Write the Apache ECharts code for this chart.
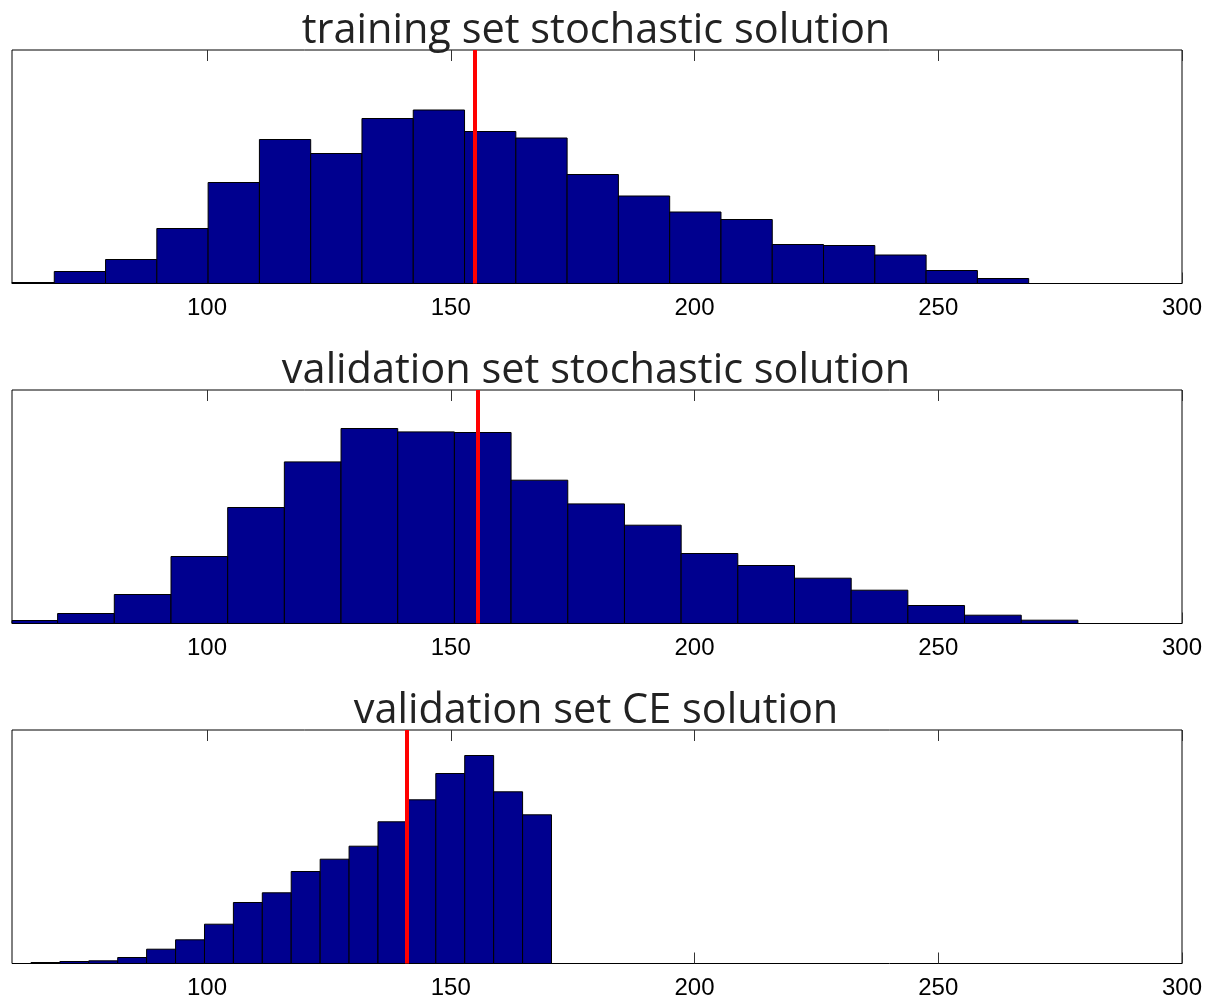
<!DOCTYPE html>
<html>
<head>
<meta charset="utf-8">
<script src="https://cdn.jsdelivr.net/npm/echarts@6/dist/echarts.min.js"></script>
<style>
html,body{margin:0;padding:0;background:#fff;}
#chart{width:1211px;height:1002px;}
</style>
</head>
<body>
<div id="chart"></div>
<script>
// ---- data ----
const panelTitles = ['training set stochastic solution', 'validation set stochastic solution', 'validation set CE solution'];
const xTickValues = [100, 150, 200, 250, 300];
const xMin = 60;
const xMax = 300;
const countMax = 233.5;

const trainCenters = [63.41, 73.93, 84.45, 94.97, 105.49, 116.01, 126.53, 137.05, 147.57, 158.09, 168.61, 179.13, 189.65, 200.17, 210.69, 221.21, 231.73, 242.25, 252.77, 263.29];
const trainCounts  = [1, 12, 24, 55, 101, 144, 130, 165, 173.5, 152, 145.5, 109, 87.5, 71.5, 64, 39, 38, 28.5, 13, 5];
const trainBinWidth = 10.52;
const trainMarker = 155.0;

const valStochCenters = [63.55, 75.17, 86.80, 98.43, 110.06, 121.68, 133.31, 144.94, 156.56, 168.19, 179.82, 191.45, 203.07, 214.70, 226.33, 237.95, 249.58, 261.21, 272.83];
const valStochCounts  = [3, 10, 29, 67, 116, 161.6, 195, 191.6, 191, 143.3, 119.6, 98.3, 70, 58, 45.3, 33.3, 18, 8.3, 3.3];
const valStochBinWidth = 11.627;
const valStochMarker = 155.6;

const valCECenters = [66.86, 72.79, 78.72, 84.65, 90.58, 96.52, 102.45, 108.38, 114.31, 120.24, 126.18, 132.11, 138.04, 143.97, 149.90, 155.83, 161.77, 167.70];
const valCECounts  = [1, 2, 2.7, 6, 14.3, 23.7, 39.3, 61, 70.7, 92, 104.3, 117.3, 141.7, 163.7, 190, 208, 171.7, 148.7];
const valCEBinWidth = 5.932;
const valCEMarker = 141.0;

// ---- chart ----
const panels = [
  {centers: trainCenters, counts: trainCounts, width: trainBinWidth, marker: trainMarker},
  {centers: valStochCenters, counts: valStochCounts, width: valStochBinWidth, marker: valStochMarker},
  {centers: valCECenters, counts: valCECounts, width: valCEBinWidth, marker: valCEMarker}
];
const gridTops = [50, 390, 730];
const gridH = 233.5;

function histRenderer(binWidth) {
  return function (params, api) {
    const c = api.value(0), v = api.value(1);
    const p0 = api.coord([c - binWidth / 2, v]);
    const p1 = api.coord([c + binWidth / 2, 0]);
    const cs = params.coordSys;
    const shape = echarts.graphic.clipRectByRect(
      {x: p0[0], y: p0[1], width: p1[0] - p0[0], height: p1[1] - p0[1]},
      {x: cs.x, y: cs.y, width: cs.width, height: cs.height}
    );
    if (!shape) return null;
    return {type: 'rect', shape: shape, style: {fill: '#00008F', stroke: '#000', lineWidth: 1}};
  };
}

const grid = [], xAxis = [], yAxis = [], series = [], graphic = [];
panels.forEach(function (p, i) {
  grid.push({left: 12, right: 29, top: gridTops[i], height: gridH, show: true, borderColor: '#000', borderWidth: 1, backgroundColor: '#fff'});
  xAxis.push({
    type: 'value', gridIndex: i, min: xMin, max: xMax, position: 'bottom',
    axisLine: {show: false}, splitLine: {show: false},
    axisTick: {show: true, inside: true, length: 11, customValues: xTickValues, lineStyle: {color: '#333', width: 1}},
    axisLabel: {show: true, customValues: xTickValues, margin: 13, color: '#000', fontSize: 24, fontFamily: 'Liberation Sans', showMinLabel: true, showMaxLabel: true}
  });
  xAxis.push({
    type: 'value', gridIndex: i, min: xMin, max: xMax, position: 'top',
    axisLine: {show: false}, splitLine: {show: false},
    axisTick: {show: true, inside: true, length: 11, customValues: xTickValues, lineStyle: {color: '#333', width: 1}},
    axisLabel: {show: false}
  });
  yAxis.push({
    type: 'value', gridIndex: i, min: 0, max: countMax,
    axisLine: {show: false}, axisTick: {show: false}, axisLabel: {show: false}, splitLine: {show: false}
  });
  series.push({
    type: 'custom', xAxisIndex: i * 2, yAxisIndex: i,
    renderItem: histRenderer(p.width),
    data: p.centers.map(function (c, k) { return [c, p.counts[k]]; }),
    z: 2,
    markLine: {
      silent: true, symbol: 'none', label: {show: false},
      lineStyle: {color: '#FF0000', width: 4, type: 'solid'},
      data: [{xAxis: p.marker}]
    }
  });
  graphic.push({
    type: 'text', x: 596, y: gridTops[i] - 19,
    style: {text: panelTitles[i], fill: '#222222', font: '41.5px "Open Sans"', textAlign: 'center', textVerticalAlign: 'middle'}
  });
});

const chart = echarts.init(document.getElementById('chart'), null, {renderer: 'canvas'});
chart.setOption({
  animation: false,
  backgroundColor: '#fff',
  grid: grid, xAxis: xAxis, yAxis: yAxis, series: series,
  graphic: graphic
});
</script>
</body>
</html>
